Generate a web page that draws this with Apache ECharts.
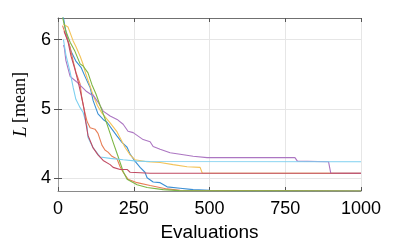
<!DOCTYPE html>
<html><head><meta charset="utf-8">
<script src="https://cdn.jsdelivr.net/npm/echarts@6/dist/echarts.min.js"></script>
<style>html,body{margin:0;padding:0;background:#fff}#c{width:399px;height:247px}</style>
</head><body><div id="c"></div>
<script>
const xTicks = [0, 250, 500, 750, 1000];
const yTicks = [4, 5, 6];
const seriesNames = ['run1','run2','run3','run4','run5','run6','run7'];
const run1 = [[12,6.45],[16,6.37],[23,6.18],[33,5.98],[43,5.83],[59,5.69],[76,5.60],[89,5.47],[106,5.31],[116,5.12],[132,4.93],[149,4.85],[162,4.81],[178,4.71],[195,4.61],[211,4.52],[228,4.45],[238,4.35],[254,4.25],[271,4.16],[287,4.09],[294,4.01],[314,3.95],[337,3.94],[360,3.88],[403,3.86],[446,3.84],[502,3.83],[600,3.825],[1000,3.82]];
const run2 = [[15,6.2],[23,6.1],[40,5.89],[50,5.69],[59,5.53],[73,5.36],[78,5.18],[86,5.0],[96,4.82],[106,4.73],[122,4.71],[132,4.65],[145,4.48],[155,4.41],[165,4.38],[178,4.32],[195,4.28],[205,4.17],[215,4.09],[231,3.99],[261,3.94],[304,3.90],[360,3.85],[403,3.83],[1000,3.82]];
const run3 = [[18,6.22],[33,6.18],[50,5.98],[59,5.90],[73,5.76],[83,5.64],[92,5.50],[106,5.33],[115,5.21],[130,5.05],[145,4.94],[172,4.80],[195,4.67],[221,4.45],[238,4.34],[254,4.27],[294,4.24],[337,4.23],[380,4.20],[426,4.17],[469,4.16],[476,4.08],[1000,4.075]];
const run4 = [[18,5.92],[21,5.88],[26,5.70],[40,5.47],[59,5.40],[76,5.33],[92,5.26],[109,5.21],[116,5.20],[132,5.10],[149,4.97],[172,4.90],[195,4.85],[215,4.78],[231,4.68],[248,4.66],[281,4.56],[304,4.53],[314,4.46],[337,4.42],[370,4.37],[403,4.35],[446,4.32],[492,4.30],[535,4.30],[782,4.30],[790,4.25],[893,4.24],[900,4.08],[1000,4.075]];
const run5 = [[14,6.35],[16,6.30],[26,6.12],[40,5.96],[56,5.83],[73,5.65],[83,5.62],[99,5.52],[112,5.35],[125,5.22],[139,5.05],[162,4.78],[182,4.52],[198,4.32],[215,4.10],[228,3.99],[261,3.91],[294,3.87],[347,3.84],[400,3.825],[1000,3.82]];
const run6 = [[18,6.0],[26,5.78],[40,5.53],[50,5.31],[59,5.14],[73,5.02],[83,4.95],[96,4.75],[99,4.59],[116,4.44],[139,4.31],[172,4.29],[215,4.27],[261,4.25],[304,4.245],[1000,4.24]];
const run7 = [[20,6.12],[23,6.1],[33,5.97],[43,5.76],[56,5.57],[66,5.40],[76,5.21],[86,5.0],[92,4.8],[99,4.62],[116,4.44],[132,4.34],[149,4.26],[172,4.20],[182,4.16],[205,4.13],[228,4.13],[238,4.09],[304,4.075],[1000,4.075]];
const runs = [run1, run2, run3, run4, run5, run6, run7];
const colors = ['#3C8FD4','#E77E56','#F3C35A','#AC76C2','#7DB646','#7DD0F0','#C04A62'];

const chart = echarts.init(document.getElementById('c'), null, {renderer:'canvas'});
const lab = {fontFamily:'Liberation Sans, Arial, sans-serif', fontSize:18, color:'#000'};
chart.setOption({
  animation:false,
  grid:{left:58, right:38, top:18, bottom:56},
  xAxis:[{
    type:'value', min:0, max:1000, interval:250, position:'bottom',
    name:'Evaluations', nameLocation:'middle', nameGap:31,
    nameTextStyle:{fontFamily:'Liberation Sans, Arial, sans-serif', fontSize:19, color:'#000'},
    axisLine:{show:true, lineStyle:{color:'#8a8a8a', width:1}},
    axisTick:{show:true, inside:true, length:4, lineStyle:{color:'#555'}},
    axisLabel:Object.assign({margin:9, customValues:xTicks, formatter:v=>String(v)}, lab),
    splitLine:{show:true, lineStyle:{color:'#e6e6e6', width:1}}
  },{
    type:'value', min:0, max:1000, interval:250, position:'top',
    axisLine:{show:true, lineStyle:{color:'#707070', width:1}},
    axisTick:{show:true, inside:true, length:4, lineStyle:{color:'#555'}},
    axisLabel:{show:false}, splitLine:{show:false}
  }],
  yAxis:[{
    type:'value', min:3.82, max:6.31, position:'left',
    name:'{l|L} {m|[mean]}', nameLocation:'middle', nameGap:25, nameRotate:90,
    nameTextStyle:{color:'#000', rich:{
      l:{fontFamily:'Liberation Serif, DejaVu Serif, serif', fontStyle:'italic', fontSize:19, color:'#000'},
      m:{fontFamily:'Liberation Serif, DejaVu Serif, serif', fontSize:18, color:'#000'}
    }},
    axisLine:{show:true, lineStyle:{color:'#8a8a8a', width:1}},
    axisTick:{show:true, inside:true, length:4, customValues:yTicks, lineStyle:{color:'#555'}},
    axisLabel:Object.assign({margin:7, customValues:yTicks, formatter:v=>String(v)}, lab),
    splitLine:{show:true, lineStyle:{color:'#e6e6e6', width:1}}
  },{
    type:'value', min:3.82, max:6.31, position:'right',
    axisLine:{show:true, lineStyle:{color:'#a0a0a0', width:1}},
    axisTick:{show:true, inside:true, length:4, customValues:yTicks, lineStyle:{color:'#555'}},
    axisLabel:{show:false}, splitLine:{show:false}
  }],
  series: runs.map((d,i)=>({
    name:seriesNames[i], type:'line', data:d, xAxisIndex:0, yAxisIndex:0,
    showSymbol:false, symbol:'none', clip:true,
    lineStyle:{color:colors[i], width:1.1}, z:2+i
  }))
});
</script></body></html>
